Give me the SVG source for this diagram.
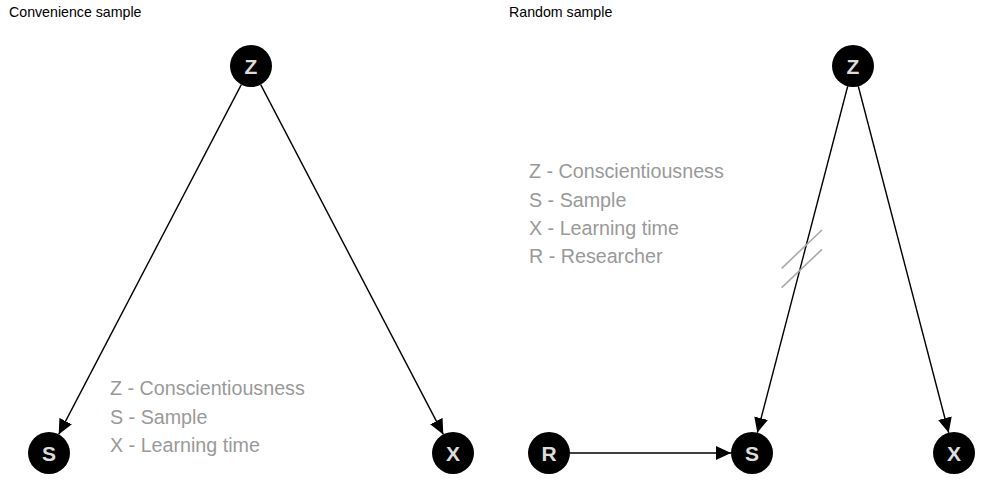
<svg xmlns="http://www.w3.org/2000/svg" width="1000" height="500" viewBox="0 0 1000 500">
<style>
.title{font-family:"Liberation Sans",Arial,sans-serif;font-size:14.2px;fill:#000}
.node circle{fill:#000}
.node text{font-family:"Liberation Sans",Arial,sans-serif;font-size:21px;font-weight:bold;fill:#ddd;text-anchor:middle}
.legend{font-family:"Liberation Sans",Arial,sans-serif;font-size:19.7px;fill:#999}
.edge{stroke:#000;stroke-width:1.4;fill:none;marker-end:url(#arr)}
.slash{stroke:#aaa;stroke-width:1.6}
</style>
<defs>
<marker id="arr" markerWidth="16" markerHeight="14" refX="15" refY="7" orient="auto" markerUnits="userSpaceOnUse">
<path d="M0,0 L15,7 L0,14 z" fill="#000"/>
</marker>
</defs>
<rect width="1000" height="500" fill="#fff"/>
<text class="title" x="9" y="17">Convenience sample</text>
<text class="title" x="509" y="17">Random sample</text>
<g id="connectors">
<line class="edge" x1="241.3" y1="84.6" x2="58.7" y2="434.4"/>
<line class="edge" x1="260.7" y1="84.6" x2="443.3" y2="434.4"/>
<line class="edge" x1="847.7" y1="86.3" x2="757.3" y2="432.7"/>
<line class="edge" x1="858.3" y1="86.3" x2="948.7" y2="432.7"/>
<line class="edge" x1="570" y1="453" x2="731" y2="453"/>
<line class="slash" x1="781.7" y1="268.3" x2="822" y2="230"/>
<line class="slash" x1="781.7" y1="287.7" x2="822" y2="249.3"/>
</g>
<g id="node-Z-left" class="node"><circle cx="251" cy="66" r="21"/><text x="251" y="73.5">Z</text></g>
<g id="node-S-left" class="node"><circle cx="49" cy="453" r="21"/><text x="49" y="460.5">S</text></g>
<g id="node-X-left" class="node"><circle cx="453" cy="453" r="21"/><text x="453" y="460.5">X</text></g>
<g id="node-Z-right" class="node"><circle cx="853" cy="66" r="21"/><text x="853" y="73.5">Z</text></g>
<g id="node-R-right" class="node"><circle cx="549" cy="453" r="21"/><text x="549" y="460.5">R</text></g>
<g id="node-S-right" class="node"><circle cx="752" cy="453" r="21"/><text x="752" y="460.5">S</text></g>
<g id="node-X-right" class="node"><circle cx="954" cy="453" r="21"/><text x="954" y="460.5">X</text></g>
<g id="legend-left">
<text class="legend" x="110" y="395">Z - Conscientiousness</text>
<text class="legend" x="110" y="424">S - Sample</text>
<text class="legend" x="110" y="452">X - Learning time</text>
</g>
<g id="legend-right">
<text class="legend" x="529" y="178">Z - Conscientiousness</text>
<text class="legend" x="529" y="207">S - Sample</text>
<text class="legend" x="529" y="235">X - Learning time</text>
<text class="legend" x="529" y="263">R - Researcher</text>
</g>
</svg>
